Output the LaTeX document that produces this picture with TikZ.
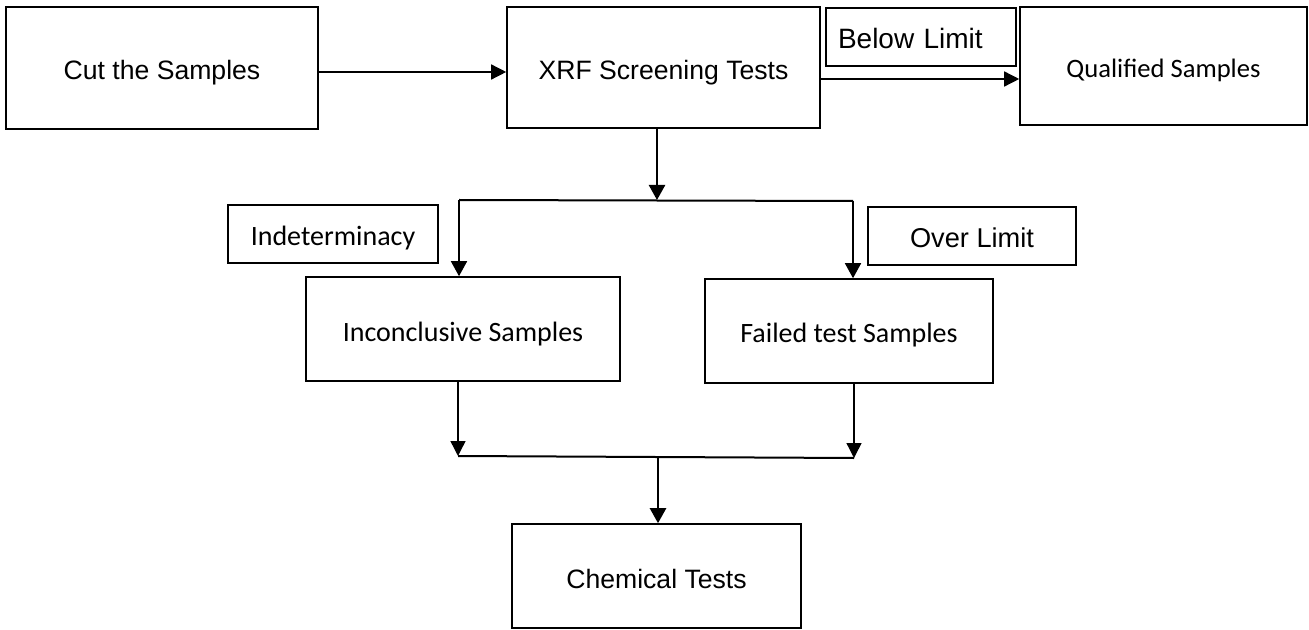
\documentclass[tikz,border=0pt]{standalone}
\usepackage{fontspec}
\setmainfont{Liberation Sans}
\newfontfamily\calibfont{Carlito}
\usetikzlibrary{arrows.meta}
\begin{document}
\begin{tikzpicture}[x=0.5pt,y=-0.5pt,
  box/.style={draw, line width=0.8pt, fill=white, inner sep=0pt, anchor=center,
    text height=12pt, text depth=0pt, font=\fontsize{13.3}{15}\selectfont},
  calbox/.style={box, font=\calibfont\fontsize{14}{16}\selectfont},
  thinarrow/.style={line width=0.7pt, -{Triangle[length=7.5pt,width=7.5pt]}},
  brancharrow/.style={line width=0.8pt, -{Triangle[length=7.5pt,width=8pt]}},
  mainarrow/.style={line width=1.2pt, -{Triangle[length=7.5pt,width=8pt]}},
  branch/.style={line width=1pt}]
\useasboundingbox (0,0) rectangle (1309,630);

% boxes
\node[box, minimum width=156pt, minimum height=61pt] (cut) at (162,68) {Cut the Samples};
\node[box, minimum width=156.5pt, minimum height=60.5pt] (xrf) at (663.5,67.5) {XRF Screening Tests};
\node[box, minimum width=95pt, minimum height=29pt, text width=83pt, align=left, inner xsep=6pt, font=\fontsize{14}{16}\selectfont] (below) at (921,37) {Below Limit};
\node[calbox, minimum width=143.5pt, minimum height=59pt, font=\calibfont\fontsize{13.3}{15}\selectfont] (qual) at (1163.5,66) {Qualified Samples};
\node[calbox, minimum width=105pt, minimum height=29pt] (indet) at (333,234) {Indeterminacy};
\node[box, minimum width=104pt, minimum height=29pt, font=\fontsize{13.6}{15}\selectfont] (overl) at (972,236) {Over Limit};
\node[calbox, minimum width=157pt, minimum height=52pt] (incon) at (463,329) {Inconclusive Samples};
\node[calbox, minimum width=144pt, minimum height=52pt] (failed) at (849,331) {Failed test Samples};
\node[box, minimum width=144.5pt, minimum height=52pt] (chem) at (656.5,576) {Chemical Tests};

% junction points
\coordinate (j1) at (657,200);
\coordinate (jl) at (459,200);
\coordinate (jr) at (853,201);
\coordinate (bl) at (458,456);
\coordinate (br) at (854,458);
\coordinate (bm) at (658,457);
\coordinate (c1) at (318,72);
\coordinate (q1) at (820,79);

% connectors
\draw[thinarrow] (c1 -| cut.east) -- (c1 -| xrf.west);
\draw[thinarrow] (q1 -| xrf.east) -- (q1 -| qual.west);
\draw[mainarrow] (j1 |- xrf.south) -- (j1);
\draw[branch] (jl) -- (jr);
\draw[brancharrow] (jl) -- (jl |- incon.north);
\draw[brancharrow] (jr) -- (jr |- failed.north);
\draw[thinarrow] (bl |- incon.south) -- (bl);
\draw[thinarrow] (br |- failed.south) -- (br);
\draw[branch] (bl) -- (br);
\draw[mainarrow] (bm) -- (bm |- chem.north);
\end{tikzpicture}
\end{document}
